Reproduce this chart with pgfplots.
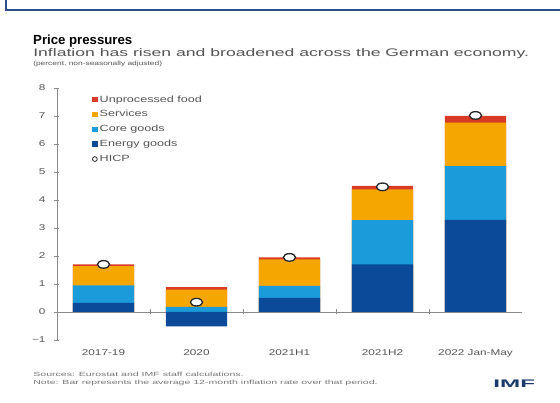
\documentclass[border=0pt]{standalone}
\usepackage{fontspec}
\setmainfont{Liberation Sans}[FakeStretch=1.4]
\newfontfamily\plainfont{Liberation Sans}
\usepackage{pgfplots}
\pgfplotsset{compat=1.18}
\definecolor{energy}{HTML}{0A4A98}
\definecolor{core}{HTML}{1C9BDB}
\definecolor{services}{HTML}{F5A600}
\definecolor{food}{HTML}{D93A26}
\definecolor{frame}{HTML}{2B4F8A}
\definecolor{txtgray}{HTML}{555555}
\definecolor{axisgray}{HTML}{8A8A8A}
\definecolor{imfblue}{HTML}{1B3A6B}
\begin{document}
\begin{tikzpicture}[x=1pt,y=1pt]
\useasboundingbox (0,0) rectangle (560,403);
\fill[white] (0,0) rectangle (560,403);
\draw[frame, line width=1.5pt] (6,403) -- (6,393) -- (560,393);
\node[anchor=base west, inner sep=0] at (33,358) {\plainfont\bfseries\fontsize{13.2}{15}\selectfont Price pressures};
\node[anchor=base west, inner sep=0, xscale=1.6, text=txtgray] at (33,346.5) {\plainfont\fontsize{11}{13}\selectfont Inflation has risen and broadened across the German economy.};
\node[anchor=base west, inner sep=0, xscale=1.4, text=txtgray] at (33,337) {\plainfont\fontsize{6}{7}\selectfont (percent, non-seasonally adjusted)};
\node[anchor=base west, inner sep=0, xscale=1.76, text=txtgray!80] at (33,26) {\plainfont\fontsize{6}{7}\selectfont Sources: Eurostat and IMF staff calculations.};
\node[anchor=base west, inner sep=0, xscale=1.76, text=txtgray!80] at (33,18) {\plainfont\fontsize{6}{7}\selectfont Note: Bar represents the average 12-month inflation rate over that period.};
\node[anchor=base west, inner sep=0, xscale=2.2, text=imfblue] at (493,15.5) {\plainfont\bfseries\fontsize{11}{13}\selectfont IMF};
\begin{axis}[
  at={(57pt,63pt)}, anchor=south west, scale only axis,
  width=465pt, height=252pt,
  xmin=-0.5, xmax=4.5, ymin=-1, ymax=8,
  axis line style={draw=none},
  xtick={0,1,2,3,4},
  xticklabels={2017-19,2020,2021H1,2021H2,2022 Jan-May},
  ytick={-1,0,1,2,3,4,5,6,7,8},
  yticklabels={−1,0,1,2,3,4,5,6,7,8},
  major tick length=0pt,
  xticklabel style={font=\fontsize{8.4}{10}\selectfont, text=txtgray, yshift=-6pt},
  yticklabel style={font=\fontsize{8.4}{10}\selectfont, text=txtgray, xshift=-8pt},
  legend style={draw=none, fill=none, at={(0.075,0.979)}, anchor=north west,
    font=\fontsize{9}{10}\selectfont, text=txtgray, row sep=2.9pt, inner sep=0pt},
  legend cell align=left,
  clip=false,
]
\draw[axisgray, line width=0.7pt] (axis cs:-0.5,0) -- (axis cs:4.5,0);
\draw[axisgray, line width=0.7pt] (axis cs:-0.5,-1) -- (axis cs:-0.5,8);
\pgfplotsinvokeforeach{0.5,1.5,2.5,3.5}{
  \draw[axisgray, line width=0.6pt] ([yshift=-2.5pt]axis cs:#1,0) -- ([yshift=2.5pt]axis cs:#1,0);
}
\pgfplotsinvokeforeach{-1,0,1,2,3,4,5,6,7,8}{
  \draw[axisgray, line width=0.6pt] ([xshift=-2.5pt]axis cs:-0.5,#1) -- ([xshift=2.5pt]axis cs:-0.5,#1);
}
\addplot[ybar, bar width=61pt, fill=food, draw=none,
  legend image code/.code={\fill[food] (0pt,-2.8pt) rectangle (5.6pt,2.8pt);}]
  coordinates {(0,1.70) (1,0.89) (2,1.95) (3,4.50) (4,7.00)};
\addlegendentry{Unprocessed food}
\addplot[ybar, bar width=61pt, fill=services, draw=none,
  legend image code/.code={\fill[services] (0pt,-2.8pt) rectangle (5.6pt,2.8pt);}]
  coordinates {(0,1.64) (1,0.80) (2,1.88) (3,4.38) (4,6.76)};
\addlegendentry{Services}
\addplot[ybar, bar width=61pt, fill=core, draw=none,
  legend image code/.code={\fill[core] (0pt,-2.8pt) rectangle (5.6pt,2.8pt);}]
  coordinates {(0,0.95) (1,0.18) (2,0.93) (3,3.28) (4,5.21)};
\addlegendentry{Core goods}
\addplot[ybar, bar width=61pt, fill=energy, draw=none,
  legend image code/.code={\fill[energy] (0pt,-2.8pt) rectangle (5.6pt,2.8pt);}]
  coordinates {(0,0.33) (1,-0.51) (2,0.50) (3,1.70) (4,3.29)};
\addlegendentry{Energy goods}
\addplot[only marks, mark=*, mark size=3.8pt,
  mark options={xscale=1.6, fill=white, draw=black!85, line width=1.3pt},
  legend image code/.code={\draw[black!85, fill=white, line width=0.8pt] (2.8pt,0pt) circle (2.4pt);}]
  coordinates {(0,1.70) (1,0.35) (2,1.95) (3,4.47) (4,7.02)};
\addlegendentry{HICP}
\end{axis}
\end{tikzpicture}
\end{document}
